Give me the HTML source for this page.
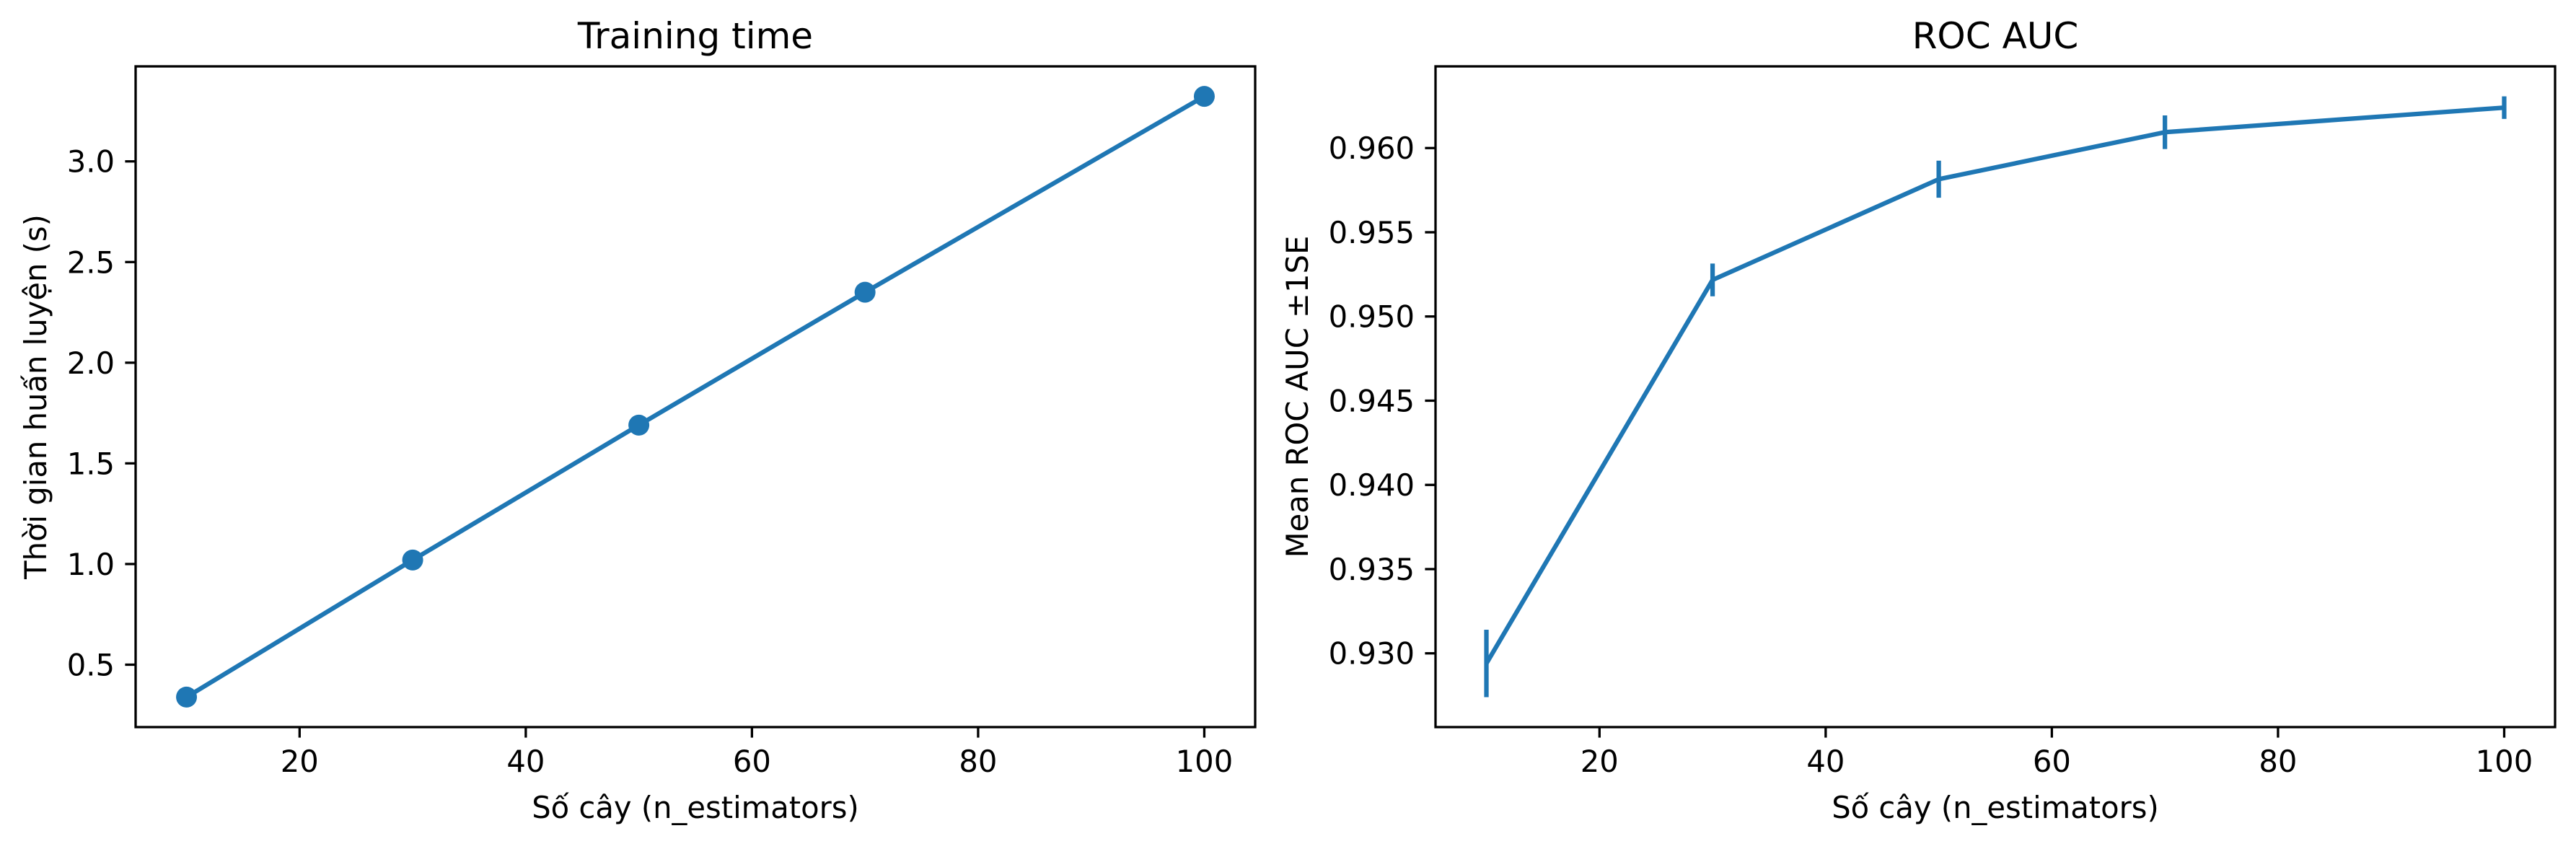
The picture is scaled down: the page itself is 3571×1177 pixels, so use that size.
<!DOCTYPE html>
<html><head><meta charset="utf-8"><style>
html,body{margin:0;padding:0;background:#fff;}
svg text{font-family:"DejaVu Sans","Liberation Sans",sans-serif;fill:#000;}
</style></head>
<body>
<svg id="chart" xmlns="http://www.w3.org/2000/svg" width="3571" height="1172" viewBox="0 0 3571 1172">
<rect width="3571" height="1172" fill="#fff"/>
</svg>
<script>
const nEstimators = [10, 30, 50, 70, 100];
const trainTimes = [0.339, 1.02, 1.69, 2.35, 3.323];
const rocMeans = [0.9294, 0.95217, 0.95815, 0.96094, 0.9624];
const rocErrs = [0.002, 0.00097, 0.0011, 0.001, 0.00067];
const xTicks = [20, 40, 60, 80, 100];
const leftYTicks = [0.5, 1.0, 1.5, 2.0, 2.5, 3.0];
const leftYTickLabels = ["0.5", "1.0", "1.5", "2.0", "2.5", "3.0"];
const rightYTicks = [0.930, 0.935, 0.940, 0.945, 0.950, 0.955, 0.960];
const rightYTickLabels = ["0.930", "0.935", "0.940", "0.945", "0.950", "0.955", "0.960"];

const NS = "http://www.w3.org/2000/svg";
const svg = document.getElementById('chart');
const BLUE = "#1f77b4";
function mk(tag, attrs, parent) {
  const e = document.createElementNS(NS, tag);
  for (const k in attrs) e.setAttribute(k, attrs[k]);
  (parent || svg).appendChild(e);
  return e;
}
function scale(d0, d1, r0, r1) { return v => r0 + (v - d0) / (d1 - d0) * (r1 - r0); }

function axes(name, box, xDom, yDom, yTicks, yLabels, title, ylab, ylabX) {
  const g = mk('g', {});
  
  
  const xs = scale(xDom[0], xDom[1], box.l, box.r);
  const ys = scale(yDom[0], yDom[1], box.b, box.t);
  xTicks.forEach(v => {
    const x = xs(v);
    const t = mk('line', {x1: x, x2: x, y1: box.b, y2: box.b + 14.6, stroke: '#000', 'stroke-width': 3.3}, g);
    
    
    const l = mk('text', {x: x, y: box.b + 62, 'font-size': 41.7, 'text-anchor': 'middle'}, g);
    
    
    l.textContent = String(v);
  });
  yTicks.forEach((v, i) => {
    const y = ys(v);
    const t = mk('line', {x1: box.l - 14.6, x2: box.l, y1: y, y2: y, stroke: '#000', 'stroke-width': 3.3}, g);
    
    
    const l = mk('text', {x: box.l - 29, y: y + 15, 'font-size': 41.7, 'text-anchor': 'end'}, g);
    
    
    l.textContent = yLabels[i];
  });
  const ti = mk('text', {x: (box.l + box.r) / 2, y: 67, 'font-size': 50, 'text-anchor': 'middle'}, g);
  
  
  ti.textContent = title;
  const xl = mk('text', {x: (box.l + box.r) / 2, y: 1134, 'font-size': 41.7, 'text-anchor': 'middle'}, g);
  
  
  xl.textContent = "Số cây (n_estimators)";
  const cy = (box.t + box.b) / 2;
  const yl = mk('text', {x: ylabX, y: cy, 'font-size': 41.7, 'text-anchor': 'middle', transform: `rotate(-90 ${ylabX} ${cy})`}, g);
  
  
  yl.textContent = ylab;
  return {g, xs, ys};
}
function frame(g, box) {
  const f = mk('rect', {x: box.l, y: box.t, width: box.r - box.l, height: box.b - box.t, fill: 'none', stroke: '#000', 'stroke-width': 3.3}, g);
  
  
}

const boxL = {l: 188, r: 1740, t: 92, b: 1008};
const A = axes('training-time-panel', boxL, [5.5, 104.5], [0.19, 3.472], leftYTicks, leftYTickLabels, 'Training time', 'Thời gian huấn luyện (s)', 64);
const ptsL = nEstimators.map((n, i) => `${A.xs(n)},${A.ys(trainTimes[i])}`).join(' ');
const lineL = mk('polyline', {points: ptsL, fill: 'none', stroke: BLUE, 'stroke-width': 6.25, 'stroke-linejoin': 'round'}, A.g);


nEstimators.forEach((n, i) => {
  const c = mk('circle', {cx: A.xs(n), cy: A.ys(trainTimes[i]), r: 14.5, fill: BLUE}, A.g);
  
  
});
frame(A.g, boxL);

const boxR = {l: 1990, r: 3542, t: 92, b: 1008};
const B = axes('roc-auc-panel', boxR, [5.5, 104.5], [0.92562, 0.96485], rightYTicks, rightYTickLabels, 'ROC AUC', 'Mean ROC AUC ±1SE', 1813);
const ptsR = nEstimators.map((n, i) => `${B.xs(n)},${B.ys(rocMeans[i])}`).join(' ');
const lineR = mk('polyline', {points: ptsR, fill: 'none', stroke: BLUE, 'stroke-width': 6.25, 'stroke-linejoin': 'round'}, B.g);


nEstimators.forEach((n, i) => {
  const x = B.xs(n);
  const e = mk('line', {x1: x, x2: x, y1: B.ys(rocMeans[i] - rocErrs[i]), y2: B.ys(rocMeans[i] + rocErrs[i]), stroke: BLUE, 'stroke-width': 6.25}, B.g);
  
  
});
frame(B.g, boxR);
</script>
</body></html>
